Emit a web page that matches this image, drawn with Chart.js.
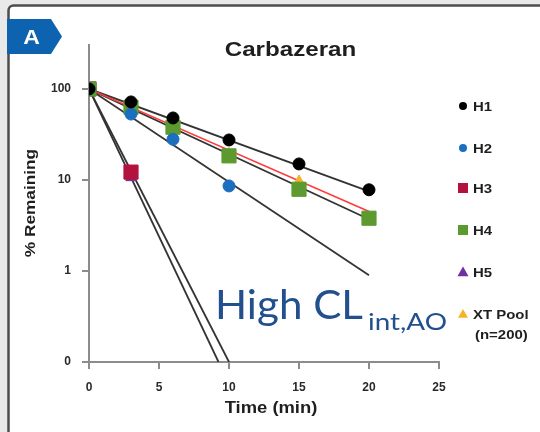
<!DOCTYPE html>
<html>
<head>
<meta charset="utf-8">
<script src="https://cdn.jsdelivr.net/npm/chart.js@4"></script>
<style>
  html, body { margin: 0; padding: 0; background: #e9e9e9; }
  canvas { display: block; }
</style>
</head>
<body>
<canvas id="chartCarbazeran" width="540" height="432"></canvas>
<script>
// Data (time in min, % remaining)
const h1Times = [0, 3, 6, 10, 15, 20];
const h1Values = [100, 72, 48, 27.5, 15, 7.8];
const h2Times = [0, 3, 6, 10];
const h2Values = [100, 53, 28, 8.6];
const h3Times = [0, 3];
const h3Values = [100, 12.2];
const h4Times = [0, 3, 6, 10, 15, 20];
const h4Values = [100, 63, 38, 18.4, 7.9, 3.8];
const h5Times = [0, 3];
const h5Values = [100, 10.6];
const xtTimes = [0, 3, 6, 10, 15, 20];
const xtValues = [100, 65, 41, 20, 10, 3.9];

// fitted decay lines : start at (0, 100)
const fitNames = ["H1", "H2", "H3", "H4", "H5", "XT Pool"];
const fitEndTimes = [20, 20, 10, 20, 9.25, 20];
const fitEndValues = [7.5, 0.9, 0.1, 3.7, 0.1, 4.5];

const xTicks = [0, 5, 10, 15, 20, 25];
const yTicks = [0.1, 1, 10, 100];
const yTickLabels = ["0", "1", "10", "100"];

const seriesNames = ["H1", "H2", "H3", "H4", "H5", "XT Pool"];
const seriesColors = ["#000000", "#1c6fbe", "#b3123f", "#5c9a2f", "#7030a0", "#f6b22a"];

const toPoints = (times, values) => times.map((t, i) => ({ x: t, y: values[i] }));

// Texte étiré un peu en largeur comme sur l'image
function drawText(ctx, text, x, y, font, color, align, sx) {
  ctx.save();
  ctx.font = font;
  ctx.fillStyle = color;
  ctx.textAlign = align;
  ctx.textBaseline = "alphabetic";
  ctx.translate(x, y);
  ctx.scale(sx || 1.15, 1);
  ctx.fillText(text, 0, 0);
  ctx.restore();
}

function fitText(ctx, text, x, y, font, color, width) {
  ctx.save();
  ctx.font = font;
  const w = ctx.measureText(text).width;
  ctx.fillStyle = color;
  ctx.textAlign = "left";
  ctx.textBaseline = "alphabetic";
  ctx.translate(x, y);
  ctx.scale(width / w, 1);
  ctx.fillText(text, 0, 0);
  ctx.restore();
}

function marker(ctx, style, x, y, size, color) {
  ctx.save();
  ctx.fillStyle = color;
  ctx.beginPath();
  if (style === "circle") {
    ctx.arc(x, y, size, 0, Math.PI * 2);
  } else if (style === "rect") {
    ctx.rect(x - size, y - size, size * 2, size * 2);
  } else {
    ctx.moveTo(x, y - size);
    ctx.lineTo(x + size, y + size * 0.75);
    ctx.lineTo(x - size, y + size * 0.75);
    ctx.closePath();
  }
  ctx.fill();
  ctx.restore();
}

const framePlugin = {
  id: "frame",
  beforeDraw(chart) {
    const ctx = chart.ctx;
    ctx.save();
    ctx.fillStyle = "#e9e9e9";
    ctx.fillRect(0, 0, 540, 432);
    ctx.beginPath();
    ctx.roundRect(8.5, 5.5, 560, 460, 5);
    ctx.fillStyle = "#ffffff";
    ctx.fill();
    ctx.lineWidth = 2.5;
    ctx.strokeStyle = "#4d4d4d";
    ctx.stroke();
    ctx.restore();
  },
  afterDraw(chart) {
    const ctx = chart.ctx;
    // badge "A"
    ctx.save();
    ctx.beginPath();
    ctx.moveTo(7, 19);
    ctx.lineTo(51, 19);
    ctx.lineTo(62, 36.5);
    ctx.lineTo(51, 54);
    ctx.lineTo(7, 54);
    ctx.closePath();
    ctx.fillStyle = "#0d63b0";
    ctx.fill();
    ctx.restore();
    drawText(ctx, "A", 31.5, 43.5, "bold 20px 'Liberation Sans'", "#ffffff", "center");

    // titles
    drawText(ctx, "Carbazeran", 290.5, 56, "bold 21px 'Liberation Sans'", "#1e1e1e", "center");
    drawText(ctx, "Time (min)", 271, 413, "bold 16px 'Liberation Sans'", "#1e1e1e", "center");
    ctx.save();
    ctx.translate(35, 203);
    ctx.rotate(-Math.PI / 2);
    drawText(ctx, "% Remaining", 0, 0, "bold 15px 'Liberation Sans'", "#1e1e1e", "center");
    ctx.restore();

    // legend
    const legendY = [106, 148, 188, 230, 272, 314];
    const legendStyles = ["circle", "circle", "rect", "rect", "triangle", "triangle"];
    const legendSizes = [4, 4, 5, 5, 5.5, 5];
    seriesNames.forEach((name, i) => {
      marker(ctx, legendStyles[i], 463, legendY[i], legendSizes[i], seriesColors[i]);
      drawText(ctx, name, 473, legendY[i] + 5, "bold 13px 'Liberation Sans'", "#1e1e1e", "left");
    });
    drawText(ctx, "(n=200)", 475, 339, "bold 13px 'Liberation Sans'", "#1e1e1e", "left");

    // overlay
    fitText(ctx, "High CL", 215, 319, "40px Lato", "#22508e", 148);
    fitText(ctx, "int,AO", 368, 330, "24px Lato", "#22508e", 79);
  },
};

const fitDatasets = fitNames.map((name, i) => ({
  label: name + " fit",
  data: [{ x: 0, y: 100 }, { x: fitEndTimes[i], y: fitEndValues[i] }],
  showLine: true,
  pointRadius: 0,
  borderColor: name === "XT Pool" ? "#ff3b3b" : "#333333",
  borderWidth: name === "XT Pool" ? 1.6 : 1.8,
  order: name === "XT Pool" ? 7 : 8,
}));

new Chart(document.getElementById("chartCarbazeran"), {
  type: "scatter",
  plugins: [framePlugin],
  data: {
    datasets: [
      ...fitDatasets,
      { label: "H1", data: toPoints(h1Times, h1Values), pointStyle: "circle", pointRadius: 6, backgroundColor: seriesColors[0], borderColor: seriesColors[0], order: 1 },
      { label: "H2", data: toPoints(h2Times, h2Values), pointStyle: "circle", pointRadius: 6, backgroundColor: seriesColors[1], borderColor: seriesColors[1], order: 2 },
      { label: "H4", data: toPoints(h4Times, h4Values), pointStyle: "rect", pointRadius: 10, backgroundColor: seriesColors[3], borderColor: seriesColors[3], order: 3 },
      { label: "H3", data: toPoints(h3Times, h3Values), pointStyle: "rect", pointRadius: 10, backgroundColor: seriesColors[2], borderColor: seriesColors[2], order: 4 },
      { label: "H5", data: toPoints(h5Times, h5Values), pointStyle: "triangle", pointRadius: 6, backgroundColor: seriesColors[4], borderColor: seriesColors[4], order: 5 },
      { label: "XT Pool", data: toPoints(xtTimes, xtValues), pointStyle: "triangle", pointRadius: 5, backgroundColor: seriesColors[5], borderColor: seriesColors[5], order: 6 },
    ],
  },
  options: {
    responsive: false,
    devicePixelRatio: 1,
    animation: false,
    layout: { padding: { top: 45, right: 101, left: 0, bottom: 0 } },
    plugins: {
      legend: { display: false },
      tooltip: { enabled: false },
    },
    scales: {
      x: {
        type: "linear",
        min: 0,
        max: 25,
        afterFit: (s) => { s.height = 70; },
        afterBuildTicks: (s) => { s.ticks = xTicks.map((v) => ({ value: v })); },
        grid: { drawOnChartArea: false, drawTicks: true, tickLength: 7, color: "#8c8c8c", lineWidth: 2 },
        border: { color: "#8c8c8c", width: 2 },
        ticks: { padding: 11, color: "#2a2a2a", font: { family: "Liberation Sans", size: 12, weight: "bold" } },
      },
      y: {
        type: "logarithmic",
        min: 0.1,
        max: 304,
        afterFit: (s) => { s.width = 89; },
        afterBuildTicks: (s) => { s.ticks = yTicks.map((v) => ({ value: v })); },
        grid: { drawOnChartArea: false, drawTicks: true, tickLength: 7, color: "#8c8c8c", lineWidth: 2 },
        border: { color: "#8c8c8c", width: 2 },
        ticks: {
          padding: 11,
          autoSkip: false,
          color: "#2a2a2a",
          font: { family: "Liberation Sans", size: 12, weight: "bold" },
          callback: (value) => yTickLabels[yTicks.indexOf(value)],
        },
      },
    },
  },
});
</script>
</body>
</html>
